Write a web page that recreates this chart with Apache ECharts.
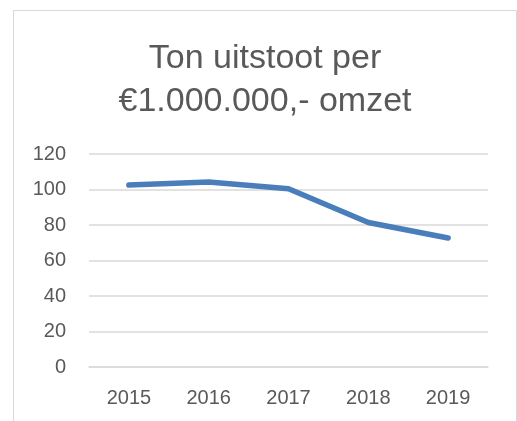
<!DOCTYPE html>
<html lang="nl" style="height: 100%">
<head>
  <meta charset="utf-8">
  <script src="https://cdn.jsdelivr.net/npm/echarts/dist/echarts.min.js"></script>
</head>
<body style="height: 100%; margin: 0; background: #fff">
  <div id="container" style="width: 517px; height: 421px"></div>

  <script type="text/javascript">
    var years = ['2015', '2016', '2017', '2018', '2019'];
    var uitstoot = [102.5, 104.2, 100.4, 81.4, 72.7];
    var yTicks = { min: 0, max: 120, interval: 20 };

    var dom = document.getElementById('container');
    var myChart = echarts.init(dom, null, { renderer: 'canvas' });
    var font = '"Liberation Sans", Arial, sans-serif';

    var option = {
      animation: false,
      graphic: [
        {
          type: 'rect',
          shape: { x: 13.5, y: 10.5, width: 503, height: 430 },
          style: { fill: 'none', stroke: '#d9d9d9', lineWidth: 1 }
        }
      ],
      title: {
        text: 'Ton uitstoot per\n€1.000.000,- omzet',
        left: 265,
        top: 37,
        textAlign: 'center',
        padding: 0,
        textStyle: {
          fontFamily: font,
          fontSize: 34,
          fontWeight: 'normal',
          color: '#595959',
          lineHeight: 43
        }
      },
      grid: { left: 89, right: 29, top: 154, bottom: 54, containLabel: false },
      xAxis: {
        type: 'category',
        data: years,
        boundaryGap: true,
        axisLine: { show: true, lineStyle: { color: '#d9d9d9', width: 1.5 } },
        axisTick: { show: false },
        axisLabel: { color: '#595959', fontFamily: font, fontSize: 20, margin: 21 }
      },
      yAxis: {
        type: 'value',
        min: yTicks.min,
        max: yTicks.max,
        interval: yTicks.interval,
        axisLine: { show: false },
        axisTick: { show: false },
        axisLabel: { color: '#595959', fontFamily: font, fontSize: 20, margin: 23 },
        splitLine: { lineStyle: { color: '#d9d9d9', width: 1.5 } }
      },
      series: [
        {
          type: 'line',
          data: uitstoot,
          symbol: 'none',
          lineStyle: { color: '#4a7ebb', width: 5.5, cap: 'round', join: 'round' }
        }
      ]
    };

    myChart.setOption(option);
    window.addEventListener('resize', myChart.resize);
  </script>
</body>
</html>
